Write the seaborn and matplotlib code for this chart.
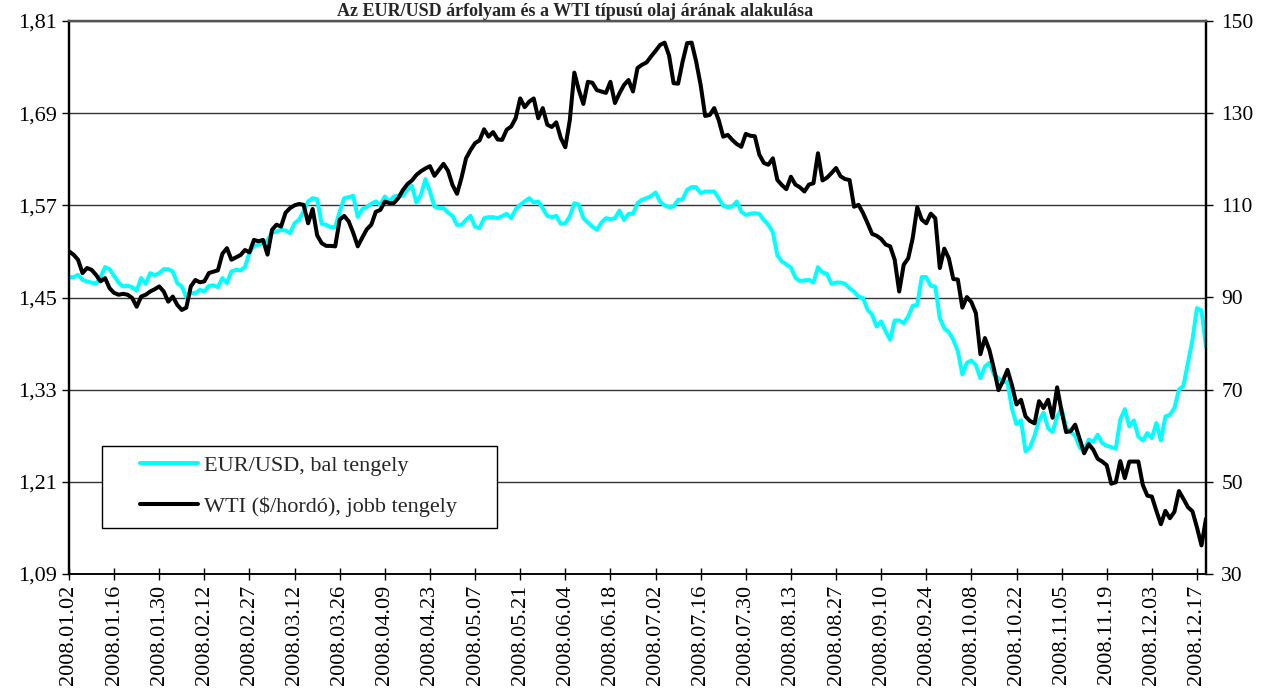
import numpy as np
import pandas as pd
import matplotlib
matplotlib.use("Agg")
import matplotlib.pyplot as plt
import seaborn as sns
from matplotlib.patches import Rectangle
from matplotlib.lines import Line2D

TITLE = "Az EUR/USD árfolyam és a WTI típusú olaj árának alakulása"

TICK_LABELS = ["2008.01.02", "2008.01.16", "2008.01.30", "2008.02.12", "2008.02.27",
               "2008.03.12", "2008.03.26", "2008.04.09", "2008.04.23", "2008.05.07",
               "2008.05.21", "2008.06.04", "2008.06.18", "2008.07.02", "2008.07.16",
               "2008.07.30", "2008.08.13", "2008.08.27", "2008.09.10", "2008.09.24",
               "2008.10.08", "2008.10.22", "2008.11.05", "2008.11.19", "2008.12.03",
               "2008.12.17"]
TICK_EVERY = 10

SERIES_NAMES = ["EUR/USD, bal tengely", "WTI ($/hordó), jobb tengely"]

EURUSD = [
    1.4765, 1.4765, 1.4795, 1.4730, 1.4708, 1.4695, 1.4680, 1.4765, 1.4896, 1.4869,
    1.4780, 1.4695, 1.4643, 1.4652, 1.4635, 1.4590, 1.4752, 1.4680, 1.4817, 1.4790,
    1.4817, 1.4869, 1.4869, 1.4839, 1.4688, 1.4643, 1.4505, 1.4557, 1.4557, 1.4600,
    1.4578, 1.4650, 1.4660, 1.4635, 1.4752, 1.4688, 1.4839, 1.4860, 1.4852, 1.4896,
    1.5086, 1.5173, 1.5186, 1.5208, 1.5242, 1.5346, 1.5359, 1.5381, 1.5372, 1.5338,
    1.5468, 1.5511, 1.5620, 1.5750, 1.5793, 1.5780, 1.5459, 1.5446, 1.5416, 1.5416,
    1.5620, 1.5793, 1.5806, 1.5824, 1.5550, 1.5651, 1.5677, 1.5720, 1.5750, 1.5707,
    1.5815, 1.5750, 1.5815, 1.5824, 1.5824, 1.5902, 1.5954, 1.5737, 1.5837, 1.6041,
    1.5880, 1.5684, 1.5664, 1.5664, 1.5606, 1.5563, 1.5446, 1.5446, 1.5511, 1.5563,
    1.5424, 1.5403, 1.5533, 1.5546, 1.5546, 1.5533, 1.5560, 1.5590, 1.5533, 1.5650,
    1.5707, 1.5750, 1.5793, 1.5737, 1.5750, 1.5663, 1.5563, 1.5546, 1.5563, 1.5459,
    1.5468, 1.5555, 1.5728, 1.5707, 1.5533, 1.5476, 1.5424, 1.5381, 1.5476, 1.5533,
    1.5520, 1.5533, 1.5632, 1.5511, 1.5589, 1.5589, 1.5728, 1.5772, 1.5793, 1.5820,
    1.5867, 1.5750, 1.5700, 1.5677, 1.5685, 1.5772, 1.5780, 1.5902, 1.5937, 1.5937,
    1.5859, 1.5880, 1.5880, 1.5880, 1.5794, 1.5694, 1.5677, 1.5685, 1.5750, 1.5619,
    1.5576, 1.5589, 1.5598, 1.5589, 1.5511, 1.5446, 1.5350, 1.5050, 1.4970, 1.4930,
    1.4890, 1.4760, 1.4715, 1.4722, 1.4730, 1.4695, 1.4895, 1.4826, 1.4809, 1.4678,
    1.4695, 1.4695, 1.4678, 1.4620, 1.4578, 1.4513, 1.4492, 1.4340, 1.4275, 1.4123,
    1.4188, 1.4058, 1.3950, 1.4201, 1.4201, 1.4167, 1.4253, 1.4392, 1.4405, 1.4766,
    1.4766, 1.4652, 1.4643, 1.4232, 1.4100, 1.4050, 1.3950, 1.3800, 1.3500, 1.3650,
    1.3680, 1.3620, 1.3450, 1.3600, 1.3650, 1.3500, 1.3450, 1.3400, 1.3400, 1.3050,
    1.2850, 1.2900, 1.2500, 1.2550, 1.2700, 1.2900, 1.3000, 1.2800, 1.2750, 1.2950,
    1.3050, 1.2800, 1.2750, 1.2700, 1.2550, 1.2500, 1.2650, 1.2620, 1.2713, 1.2605,
    1.2570, 1.2553, 1.2531, 1.2908, 1.3047, 1.2821, 1.2899, 1.2691, 1.2639, 1.2735,
    1.2670, 1.2865, 1.2639, 1.2951, 1.2973, 1.3060, 1.3299, 1.3351, 1.3646, 1.3950,
    1.4362, 1.4331, 1.3862,
]

WTI = [
    100.0, 99.3, 98.2, 95.3, 96.4, 96.0, 94.9, 93.5, 94.2, 92.0,
    91.0, 90.6, 90.8, 90.6, 89.9, 88.0, 90.2, 90.6, 91.3, 91.8,
    92.4, 91.3, 89.1, 90.2, 88.4, 87.3, 87.8, 92.4, 93.8, 93.3,
    93.5, 95.3, 95.6, 95.9, 99.5, 100.7, 98.2, 98.7, 99.2, 100.3,
    99.8, 102.5, 102.2, 102.5, 99.3, 104.7, 105.8, 105.4, 108.4, 109.4,
    110.0, 110.3, 110.1, 106.1, 109.2, 103.5, 101.8, 101.2, 101.2, 101.1,
    106.9, 107.7, 106.5, 104.0, 101.1, 103.0, 104.8, 105.8, 108.6, 109.0,
    110.8, 110.5, 110.5, 111.6, 113.3, 114.6, 115.4, 116.6, 117.4, 118.0,
    118.5, 116.4, 117.7, 119.0, 117.5, 114.4, 112.5, 116.0, 120.2, 122.0,
    123.5, 124.1, 126.5, 124.9, 125.9, 124.3, 124.2, 126.4, 127.1, 128.9,
    133.2, 131.3, 132.5, 133.2, 128.9, 131.1, 127.5, 127.0, 128.0, 124.6,
    122.6, 128.5, 138.8, 135.0, 132.0, 136.8, 136.6, 135.0, 134.7, 134.4,
    136.8, 132.2, 134.3, 136.1, 137.2, 134.7, 139.8, 140.5, 141.0, 142.3,
    143.5, 144.8, 145.3, 142.5, 136.5, 136.4, 141.2, 145.2, 145.3, 141.2,
    136.1, 129.4, 129.6, 131.1, 128.5, 124.9, 125.3, 124.2, 123.3, 122.7,
    125.5, 125.1, 125.0, 121.0, 119.2, 118.8, 120.2, 115.5, 114.4, 113.5,
    116.2, 114.5, 113.9, 113.0, 114.5, 114.8, 121.3, 115.4, 116.0, 117.0,
    118.1, 116.3, 115.7, 115.5, 109.7, 110.1, 108.3, 106.1, 103.8, 103.4,
    102.7, 101.5, 101.1, 98.2, 91.3, 97.1, 98.5, 102.9, 109.6, 106.9,
    106.1, 108.2, 107.2, 96.4, 100.6, 98.5, 94.0, 93.9, 87.8, 90.1,
    89.0, 86.6, 77.7, 81.2, 78.6, 74.5, 69.9, 71.9, 74.3, 70.9,
    66.8, 67.8, 64.2, 63.2, 62.7, 67.5, 66.0, 67.8, 63.9, 70.5,
    65.3, 60.8, 61.0, 62.4, 59.3, 56.2, 58.2, 57.0, 55.0, 54.4,
    53.6, 49.6, 49.9, 54.5, 50.8, 54.4, 54.4, 54.4, 49.3, 47.0,
    46.8, 43.7, 40.8, 43.7, 42.1, 43.5, 48.0, 46.3, 44.5, 43.6,
    40.1, 36.2, 42.0,
]

LEFT_TICKS = [1.09, 1.21, 1.33, 1.45, 1.57, 1.69, 1.81]
RIGHT_TICKS = [30, 50, 70, 90, 110, 130, 150]

CYAN = "#00FFFF"

sns.set_style("white")
plt.rcParams['font.family'] = ['Liberation Serif', 'DejaVu Serif']

W, H = 1261, 700
fig = plt.figure(figsize=(W / 100, H / 100), dpi=100)
L, R, T, B = 69, 1206, 21, 574
ax = fig.add_axes([L / W, 1 - B / H, (R - L) / W, (B - T) / H])
ax2 = ax.twinx()

df = pd.DataFrame({"idx": np.arange(len(EURUSD)), "eur": EURUSD, "wti": WTI})
sns.lineplot(data=df, x="idx", y="eur", ax=ax, color=CYAN, lw=2.9, legend=False)
sns.lineplot(data=df, x="idx", y="wti", ax=ax2, color="black", lw=2.9, legend=False)

n = len(EURUSD)
ax.set_xlim(0, n - 1)
ax.set_ylim(LEFT_TICKS[0], LEFT_TICKS[-1])
ax2.set_ylim(RIGHT_TICKS[0], RIGHT_TICKS[-1])
for a in (ax, ax2):
    a.set_xlabel("")
    a.set_ylabel("")

ax.set_yticks(LEFT_TICKS)
ax.set_yticklabels([f"{v:.2f}".replace(".", ",") for v in LEFT_TICKS])
ax2.set_yticks(RIGHT_TICKS)
ax2.set_yticklabels([str(v) for v in RIGHT_TICKS])
ax.set_xticks(np.arange(0, len(TICK_LABELS) * TICK_EVERY, TICK_EVERY))
ax.set_xticklabels(TICK_LABELS, rotation=90)

ax.yaxis.grid(True, color="#333333", lw=1.0)
ax.xaxis.grid(False)
ax.set_axisbelow(True)

ax.tick_params(axis="y", direction="out", length=5, width=1, pad=4, labelsize=16,
               left=True, right=False, colors="black")
ax2.tick_params(axis="y", direction="out", length=5, width=1, pad=6, labelsize=15.5,
                right=True, left=False, colors="black")
ax.tick_params(axis="x", direction="inout", length=9, width=1, pad=3, labelsize=16,
               bottom=True, colors="black")

for a in (ax, ax2):
    a.spines["left"].set_color("black")
    a.spines["left"].set_linewidth(1.6)
    a.spines["right"].set_color("black")
    a.spines["right"].set_linewidth(1.6)
    a.spines["bottom"].set_color("black")
    a.spines["bottom"].set_linewidth(1.1)
    a.spines["top"].set_color("#555555")
    a.spines["top"].set_linewidth(1.6)

# legend box
rect = Rectangle((102 / W, 1 - 528 / H), 395 / W, 82 / H, transform=fig.transFigure,
                 facecolor="white", edgecolor="black", lw=1.0, zorder=5, clip_on=False)
ax2.add_patch(rect)
handles = [Line2D([], [], color=CYAN, lw=2.9), Line2D([], [], color="black", lw=2.9)]
leg = ax2.legend(handles, SERIES_NAMES, loc="upper left",
                 bbox_to_anchor=(140 / W, 1 - 455 / H), bbox_transform=fig.transFigure,
                 frameon=False, fontsize=16, handlelength=2.6, handletextpad=0.3,
                 labelspacing=0.95, borderpad=0.0, borderaxespad=0.0)
leg.set_zorder(6)

fig.text(575 / W, 1 - 16 / H, TITLE, fontsize=13, fontweight="bold",
         ha="center", va="baseline")

fig.savefig("out.png", dpi=100)
